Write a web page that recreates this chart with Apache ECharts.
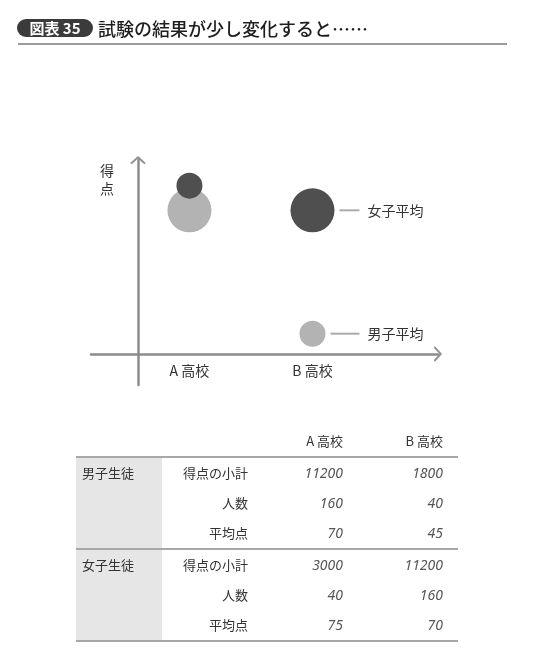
<!DOCTYPE html>
<html>
<head>
<meta charset="utf-8">
<script src="https://cdn.jsdelivr.net/npm/echarts@6/dist/echarts.min.js"></script>
<style>
  html, body { margin:0; padding:0; background:#fff; }
  body { width:540px; height:658px; position:relative; overflow:hidden; font-family:"Noto Sans CJK JP","Noto Sans",sans-serif; }
  #chart { position:absolute; left:0; top:0; width:540px; height:658px; }
  #pill { position:absolute; left:17px; top:19px; width:76px; height:18px; border-radius:9px; background:#3b3b3b; color:#fff; font-weight:bold; font-size:15px; line-height:18px; text-align:center; z-index:2; }
  #ttl { position:absolute; left:98px; top:16px; font-size:18px; line-height:24px; color:#1e1e1e; font-weight:500; z-index:2; white-space:nowrap; }
  #rule { position:absolute; left:18px; top:43px; width:489px; height:2px; background:#9a9a9a; z-index:2; }
  #tbl { position:absolute; left:76px; top:426px; width:382px; border-collapse:collapse; z-index:2; font-size:13px; color:#333; table-layout:fixed; }
  #tbl td { padding:0; height:30px; line-height:30px; white-space:nowrap; }
  #tbl tr.head td { border-bottom:2px solid #a8a8a8; text-align:right; }
  #tbl tr.last td { border-bottom:2px solid #a8a8a8; }
  #tbl td.grp { background:#e6e6e6; vertical-align:top; padding-left:6px; border-bottom:2px solid #a8a8a8; }
  #tbl td.lab { text-align:right; padding-right:2px; }
  #tbl td.num { text-align:right; padding-right:2px; font-family:"Noto Sans",sans-serif; font-style:italic; font-size:14px; color:#555; }
  #tbl tr.head td.hd { padding-right:2px; }
</style>
</head>
<body>
<div id="chart"></div>
<div id="pill">図表 35</div>
<div id="ttl">試験の結果が少し変化すると……</div>
<div id="rule"></div>
<table id="tbl">
  <colgroup><col style="width:86px"><col style="width:88px"><col style="width:95px"><col style="width:100px"><col style="width:13px"></colgroup>
  <tbody id="tb"></tbody>
</table>
<script>
// ---- data ----
const schools = ['A 高校', 'B 高校'];
const boysAvg = [70, 45];
const girlsAvg = [75, 70];
const boysCount = [160, 40];
const girlsCount = [40, 160];
const boysSubtotal = [11200, 1800];
const girlsSubtotal = [3000, 11200];
const groupLabels = ['男子生徒', '女子生徒'];
const rowLabels = ['得点の小計', '人数', '平均点'];
const seriesNames = ['男子平均', '女子平均'];
const yAxisName = '得点';

// ---- table ----
(function buildTable(){
  const tb = document.getElementById('tb');
  let html = '<tr class="head"><td></td><td></td>' + schools.map(s => '<td class="hd">' + s + '</td>').join('') + '<td></td></tr>';
  const groups = [
    [boysSubtotal, boysCount, boysAvg],
    [girlsSubtotal, girlsCount, girlsAvg]
  ];
  groups.forEach((g, gi) => {
    g.forEach((vals, ri) => {
      const cls = ri === g.length - 1 ? ' class="last"' : '';
      html += '<tr' + cls + '>';
      if (ri === 0) html += '<td class="grp" rowspan="3">' + groupLabels[gi] + '</td>';
      html += '<td class="lab">' + rowLabels[ri] + '</td>';
      html += vals.map(v => '<td class="num">' + v + '</td>').join('');
      html += '<td></td></tr>';
    });
  });
  tb.innerHTML = html;
})();

// ---- chart ----
const FONT = '"Noto Sans CJK JP","Noto Sans",sans-serif';
const chevron = 'path://M0,90 L100,0 L200,90 L176,100 L100,30 L24,100 Z';
const sizeOf = n => 20 + 0.15 * n;

function makeData(avgs, counts, name) {
  return avgs.map((v, i) => {
    const item = { value: [i + 1, v, counts[i]] };
    if (i === 1) {
      const r = sizeOf(counts[i]) / 2;
      item.label = {
        show: true,
        position: 'right',
        distance: 5,
        formatter: '{l| }{t|' + name + '}',
        rich: {
          l: { width: 42 - r, height: 2, backgroundColor: '#ababab' },
          t: { color: '#333', fontSize: 14, fontFamily: FONT, padding: [0, 0, 0, 8] }
        }
      };
    }
    return item;
  });
}

const chart = echarts.init(document.getElementById('chart'), null, { renderer: 'canvas' });
const axisLineStyle = { color: '#8c8c8c', width: 2.5 };
chart.setOption({
  animation: false,
  grid: { left: 91, right: 102, top: 160, bottom: 273 },
  xAxis: {
    type: 'value', min: 0.2, max: 3.02, offset: -31,
    axisLine: { onZero: false, symbol: ['none', chevron], symbolSize: [16, 9], lineStyle: axisLineStyle },
    axisTick: { show: false },
    splitLine: { show: false },
    axisLabel: {
      customValues: [1, 2],
      formatter: v => schools[Math.round(v) - 1] || '',
      color: '#333', fontSize: 14, margin: 10, fontFamily: FONT
    }
  },
  yAxis: {
    type: 'value', min: 34.6, max: 80.2, offset: -47,
    axisLine: { show: true, onZero: false, symbol: ['none', chevron], symbolSize: [16, 9], lineStyle: axisLineStyle },
    axisTick: { show: false },
    splitLine: { show: false },
    axisLabel: { show: false }
  },
  graphic: [{
    type: 'text', left: 100, top: 162,
    style: { text: yAxisName.split('').join('\n'), fontSize: 14, lineHeight: 18, fill: '#333', fontFamily: FONT }
  }],
  series: [
    {
      name: seriesNames[0], type: 'scatter', z: 2,
      symbolSize: d => sizeOf(d[2]),
      itemStyle: { color: '#b3b3b3', opacity: 1 },
      data: makeData(boysAvg, boysCount, seriesNames[0]),
      silent: true
    },
    {
      name: seriesNames[1], type: 'scatter', z: 3,
      symbolSize: d => sizeOf(d[2]),
      itemStyle: { color: '#4f4f4f', opacity: 1 },
      data: makeData(girlsAvg, girlsCount, seriesNames[1]),
      silent: true
    }
  ]
});
</script>
</body>
</html>
